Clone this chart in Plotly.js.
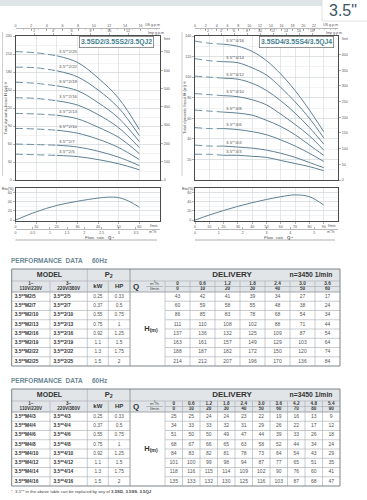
<!DOCTYPE html>
<html><head><meta charset="utf-8">
<script src="https://cdn.plot.ly/plotly-3.0.1.min.js"></script>
<style>html,body{margin:0;padding:0;background:#fff}#c{width:367px;height:500px}</style>
</head><body><div id="c"></div>
<script>
// ---------------- DATA ----------------
// Series 3.5"x2 (chart left, table 1)
const flowA = [0, 10, 20, 30, 40, 50, 60];               // l/min
const m3hA = ['0', '0.6', '1.2', '1.8', '2.4', '3.0', '3.6'];
const modelsA = ['2/5', '2/7', '2/10', '2/13', '2/16', '2/19', '2/22', '2/25'];
const hA_2_5  = [43, 42, 41, 39, 34, 27, 17];
const hA_2_7  = [60, 59, 58, 55, 48, 38, 24];
const hA_2_10 = [86, 85, 83, 78, 68, 54, 34];
const hA_2_13 = [111, 110, 108, 102, 88, 71, 44];
const hA_2_16 = [137, 136, 132, 125, 109, 87, 54];
const hA_2_19 = [163, 161, 157, 149, 129, 103, 64];
const hA_2_22 = [188, 187, 182, 172, 150, 120, 74];
const hA_2_25 = [214, 212, 207, 196, 170, 136, 84];
const effFlowA = [0, 10, 20, 30, 40, 45, 50, 55, 60];
const effA     = [0, 18, 32, 41, 48, 50, 49, 41, 28];

// Series 3.5"x4 (chart right, table 2)
const flowB = [0, 10, 20, 30, 40, 50, 60, 70, 80, 90];
const m3hB = ['0', '0.6', '1.2', '1.8', '2.4', '3.0', '3.6', '4.2', '4.8', '5.4'];
const modelsB = ['4/3', '4/4', '4/6', '4/8', '4/10', '4/12', '4/14', '4/16'];
const hB_4_3  = [25, 25, 24, 24, 23, 22, 19, 16, 13, 9];
const hB_4_4  = [34, 33, 33, 32, 31, 29, 26, 22, 17, 12];
const hB_4_6  = [51, 50, 50, 49, 47, 44, 39, 33, 26, 18];
const hB_4_8  = [68, 67, 66, 65, 63, 58, 52, 44, 34, 24];
const hB_4_10 = [84, 83, 82, 81, 78, 73, 64, 54, 43, 29];
const hB_4_12 = [101, 100, 99, 98, 94, 87, 77, 65, 51, 35];
const hB_4_14 = [118, 116, 115, 114, 109, 102, 90, 76, 60, 41];
const hB_4_16 = [135, 133, 132, 130, 125, 116, 103, 87, 68, 47];
const effFlowB = [0, 10, 20, 30, 40, 50, 60, 70, 80, 90];
const effB     = [0, 11, 21, 30, 38, 45, 51, 55, 51, 33];

// Power (same for both tables)
const kwVals = ['0.25', '0.37', '0.55', '0.75', '0.92', '1.1', '1.3', '1.5'];
const hpVals = ['0.33', '0.5', '0.75', '1', '1.25', '1.5', '1.75', '2'];

// Tick labels
const yTicksA = [0, 30, 60, 90, 120, 150, 180, 210, 240];
const feetTicksA = [0, 100, 200, 300, 400, 500, 600, 700];
const usTicksA = [0, 2, 4, 6, 8, 10, 12, 14, 16];
const impTicksA = [2, 4, 6, 8, 10, 12];
const lminTicksA = [0, 10, 20, 30, 40, 50, 60];
const m3TicksA = [0, 0.5, 1, 1.5, 2, 2.5, 3, 3.5];
const yTicksB = [20, 40, 60, 80, 100, 120, 140];
const feetTicksB = [0, 50, 100, 150, 200, 250, 300, 350, 400];
const usTicksB = [0, 2, 4, 6, 8, 10, 12, 14, 16, 18, 20, 22];
const impTicksB = [2, 4, 6, 8, 10, 12, 14, 16, 18];
const lminTicksB = [0, 10, 20, 30, 40, 50, 60, 70, 80, 90];
const m3TicksB = [0, 1, 2, 3, 4, 5];
const effTicks = [0, 20, 40, 60];

const headsA = [hA_2_5, hA_2_7, hA_2_10, hA_2_13, hA_2_16, hA_2_19, hA_2_22, hA_2_25];
const headsB = [hB_4_3, hB_4_4, hB_4_6, hB_4_8, hB_4_10, hB_4_12, hB_4_14, hB_4_16];

// ---------------- LAYOUT HELPERS ----------------
const W = 367, H = 500;
const px = v => v / W;
const py = v => 1 - v / H;
const FONT = 'Liberation Sans, Arial, sans-serif';
const TF = {family: FONT, size: 3.6, color: '#555'};
const CURVE = '#5e8194';
const GRID = '#ccd2d6', GRID2 = '#e4e8ea', FRAME = '#4a4a4a';
const M3 = 0.06, USG = 3.78541, IMPG = 4.54609, FT = 3.28084;

const traces = [];
const annotations = [];
const shapes = [];

function addCurves(models, heads, flow, xa, ya, prefix) {
  models.forEach((m, i) => {
    const h = heads[i];
    traces.push({type: 'scatter', mode: 'lines', x: flow.slice(0, 3), y: h.slice(0, 3), xaxis: xa, yaxis: ya,
      line: {color: CURVE, width: 0.9, dash: '7px,4px', shape: 'spline'}, hoverinfo: 'skip', showlegend: false});
    traces.push({type: 'scatter', mode: 'lines', x: flow.slice(2), y: h.slice(2), xaxis: xa, yaxis: ya,
      line: {color: CURVE, width: 1, shape: 'spline'}, hoverinfo: 'skip', showlegend: false});
    annotations.push({xref: xa, yref: ya, x: flow[2], y: h[2], text: prefix + m, showarrow: false,
      xanchor: 'left', yanchor: 'bottom', yshift: -0.5, font: {family: FONT, size: 4.4, color: '#555'}});
  });
}
function dummy(xa, ya) {
  traces.push({type: 'scatter', mode: 'markers', x: [0], y: [0], xaxis: xa, yaxis: ya,
    marker: {opacity: 0, size: 1}, hoverinfo: 'skip', showlegend: false});
}
function pann(text, x, y, opt) {
  annotations.push(Object.assign({xref: 'paper', yref: 'paper', x: px(x), y: py(y), text: text, showarrow: false,
    xanchor: 'left', yanchor: 'middle', font: {family: FONT, size: 3.6, color: '#555'}}, opt || {}));
}
function pline(x0, y0, x1, y1, color, width) {
  shapes.push({type: 'line', xref: 'paper', yref: 'paper', x0: px(x0), y0: py(y0), x1: px(x1), y1: py(y1),
    line: {color: color, width: width}});
}

// ---- charts
addCurves(modelsA, headsA, flowA, 'x', 'y', '3.5**');
traces.push({type: 'scatter', mode: 'lines', x: effFlowA, y: effA, xaxis: 'x4', yaxis: 'y3',
  line: {color: CURVE, width: 1, shape: 'spline'}, hoverinfo: 'skip', showlegend: false});
dummy('x', 'y2'); dummy('x2', 'y'); dummy('x3', 'y'); dummy('x5', 'y3');

addCurves(modelsB, headsB, flowB, 'x6', 'y4', '3.5**');
traces.push({type: 'scatter', mode: 'lines', x: effFlowB, y: effB, xaxis: 'x9', yaxis: 'y6',
  line: {color: CURVE, width: 1, shape: 'spline'}, hoverinfo: 'skip', showlegend: false});
dummy('x6', 'y5'); dummy('x7', 'y4'); dummy('x8', 'y4'); dummy('x10', 'y6');

const base = {zeroline: false, tickfont: TF, ticklen: 2, tickwidth: 0.5, tickcolor: '#666', fixedrange: true, showgrid: false};
const frame = {showline: true, mirror: true, linecolor: FRAME, linewidth: 1};

function chartAxes(G, n) {
  const L = {};
  const dom = [px(G.x0), px(G.x1)];
  L['xaxis' + n.x] = Object.assign({}, base, frame, {domain: dom, range: [0, G.xmax], anchor: 'y' + n.y,
    showticklabels: false, ticks: '', showgrid: true, gridcolor: GRID, gridwidth: 0.5, tickvals: G.lmin});
  L['yaxis' + n.y] = Object.assign({}, base, frame, {domain: [py(G.bot), py(G.top)], range: [0, G.ymax], anchor: 'x' + n.x,
    tickvals: G.yt, ticks: 'outside', showgrid: true, gridcolor: GRID, gridwidth: 0.5,
    minor: {dtick: G.ymin, tick0: 0, showgrid: true, gridcolor: GRID2, gridwidth: 0.5, ticks: ''}});
  L['yaxis' + n.yft] = Object.assign({}, base, {overlaying: 'y' + n.y, side: 'right', anchor: 'x' + n.x,
    range: [0, G.ymax * FT], tickvals: G.ft, ticks: 'outside'});
  L['xaxis' + n.xus] = Object.assign({}, base, {overlaying: 'x' + n.x, side: 'top', anchor: 'free', position: py(G.usY),
    range: [0, G.xmax / USG], tickvals: G.us, ticks: 'inside', showline: true, linecolor: '#888', linewidth: 0.6,
    minor: {dtick: 1, tick0: 0, ticks: 'inside', ticklen: 1.2, tickcolor: '#888', tickwidth: 0.4}});
  L['xaxis' + n.ximp] = Object.assign({}, base, {overlaying: 'x' + n.x, side: 'top', anchor: 'y' + n.y,
    range: [0, G.xmax / IMPG], tickvals: G.imp, ticks: 'outside'});
  L['xaxis' + n.xe] = Object.assign({}, base, frame, {domain: dom, range: [0, G.xmax], anchor: 'y' + n.ye,
    tickvals: G.lmin, ticks: 'outside', showgrid: true, gridcolor: GRID, gridwidth: 0.5});
  L['yaxis' + n.ye] = Object.assign({}, base, frame, {domain: [py(G.ebot), py(G.etop)], range: [-2, 70], anchor: 'x' + n.xe,
    tickvals: effTicks, ticks: 'outside', showgrid: true, gridcolor: GRID, gridwidth: 0.5,
    minor: {dtick: 10, tick0: 0, showgrid: true, gridcolor: GRID2, gridwidth: 0.5, ticks: ''}});
  L['xaxis' + n.xm3] = Object.assign({}, base, {overlaying: 'x' + n.xe, side: 'bottom', anchor: 'free', position: py(G.m3Y),
    range: [0, G.xmax * M3], tickvals: G.m3, ticks: 'inside', showline: true, linecolor: '#888', linewidth: 0.6});
  return L;
}

const GA = {x0: 15.5, x1: 160, top: 36, bot: 180, etop: 188, ebot: 221, usY: 28, m3Y: 229,
  xmax: 70, ymax: 240, ymin: 15, yt: yTicksA, ft: feetTicksA, us: usTicksA, imp: impTicksA, lmin: lminTicksA, m3: m3TicksA};
const GB = {x0: 195, x1: 338, top: 36, bot: 180, etop: 188, ebot: 221, usY: 28, m3Y: 229,
  xmax: 100, ymax: 140, ymin: 10, yt: yTicksB, ft: feetTicksB, us: usTicksB, imp: impTicksB, lmin: lminTicksB, m3: m3TicksB};

const layoutAxes = Object.assign({},
  chartAxes(GA, {x: '', xus: 2, ximp: 3, xe: 4, xm3: 5, y: '', yft: 2, ye: 3}),
  chartAxes(GB, {x: 6, xus: 7, ximp: 8, xe: 9, xm3: 10, y: 4, yft: 5, ye: 6}));
layoutAxes.xaxis.anchor = 'y'; layoutAxes.yaxis.anchor = 'x';
layoutAxes.yaxis2.overlaying = 'y'; layoutAxes.yaxis2.anchor = 'x';
layoutAxes.xaxis2.overlaying = 'x'; layoutAxes.xaxis3.overlaying = 'x'; layoutAxes.xaxis3.anchor = 'y';

// chart labels
function chartLabels(G, title, boxX, yTitleX, lineX) {
  pann('<b>' + title + '</b>', boxX, 42.5, {xanchor: 'center', bgcolor: '#fff', bordercolor: '#777',
    borderwidth: 0.8, borderpad: 1.2, font: {family: FONT, size: 6.8, color: '#3f7f8f'}});
  pann('US g.p.m', G.x1 - 17, 25);
  pann('Imp g.p.m', G.x1 - 14, 33);
  pann('feet', G.x1 + 2, 39);
  pann('l/min', G.x1 - 12, 226);
  pann('m<sup>3</sup>/h', G.x1 - 13, 232);
  pann('Flow  rate   <b>Q</b> \u2022', (G.x0 + G.x1) / 2 + 12, 237, {xanchor: 'center', font: {family: FONT, size: 4.4, color: '#555'}});
  pann('Eta(%)', G.x0 - 15.5, 189, {font: {family: FONT, size: 3.8, color: '#444'}});
  pann('Total dynamic head <b>H</b> (m) \u2261', yTitleX, 108, {xanchor: 'center', textangle: -90, font: {family: FONT, size: 4.3, color: '#555'}});
  pline(G.x0, 240, G.x1 - 3, 240, '#999', 0.8);
  pline(lineX, 32, lineX, 176, '#bbb', 0.7);
}
chartLabels(GA, '3.5SD2/3.5SS2/3.5QJ2', 116.5, 5.5, 2.5);
chartLabels(GB, '3.5SD4/3.5SS4/3.5QJ4', 296.5, 185, 182);

// top banner
shapes.push({type: 'rect', xref: 'paper', yref: 'paper', x0: 0, x1: 1, y0: py(6), y1: 1, line: {width: 0}, fillcolor: '#dfe4e7', layer: 'below'});
shapes.push({type: 'rect', xref: 'paper', yref: 'paper', x0: px(322), x1: px(368), y0: py(21), y1: py(-2), line: {width: 0.6, color: '#ccd2d6'}, fillcolor: '#fff'});
pann('3.5"', 343, 10, {xanchor: 'center', font: {family: FONT, size: 16, color: '#3b5563'}});

// ---------------- TABLES ----------------
const T = {x: [], y: [], text: [], pos: [], size: [], color: []};
function tt(x, y, text, size, color, pos) {
  T.x.push(x); T.y.push(y); T.text.push(text); T.size.push(size); T.color.push(color || '#333'); T.pos.push(pos || 'middle center');
}
function tl(x0, y0, x1, y1, color, width) {
  shapes.push({type: 'line', xref: 'x11', yref: 'y7', x0: x0, y0: y0, x1: x1, y1: y1, line: {color: color || '#a4aaae', width: width || 0.6}});
}
function buildTable(top, qM3h, qLmin, heads, mod1, mod2) {
  const c = [11.7, 50, 87.3, 108.3, 130, 165], right = 340;
  const n = qLmin.length, dw = (right - c[5]) / n;
  const r1 = top + 12, r2 = top + 17.5, r3 = top + 23, rh = 9.25, nr = heads.length, bottom = r3 + rh * nr;
  tt(11, top - 7.5, '<b>PERFORMANCE  DATA</b>', 6.5, '#6b8795', 'middle right');
  tt(92, top - 7.5, '<b>60Hz</b>', 6.5, '#6b8795', 'middle right');
  shapes.push({type: 'rect', xref: 'x11', yref: 'y7', x0: c[0], x1: right, y0: top, y1: r3, fillcolor: '#e1e5e8', line: {width: 0}, layer: 'below'});
  tl(c[0], r1, right, r1);
  tl(c[5], r2, right, r2);
  tl(146, r2, 163, r2, '#888', 0.5);
  tl(c[0], r3, right, r3, '#8d9397', 0.8);
  for (let i = 1; i < nr; i++) {
    tl(c[0], r3 + rh * i, c[4], r3 + rh * i);
    tl(c[5], r3 + rh * i, right, r3 + rh * i);
  }
  tl(c[1], r1, c[1], bottom);
  tl(c[2], top, c[2], bottom);
  tl(c[3], r1, c[3], bottom);
  tl(c[4], top, c[4], bottom, '#8d9397', 0.9);
  tl(c[5], r1, c[5], bottom);
  for (let j = 1; j < n; j++) tl(c[5] + dw * j, r1, c[5] + dw * j, bottom);
  shapes.push({type: 'rect', xref: 'x11', yref: 'y7', x0: c[0], x1: right, y0: top, y1: bottom, line: {color: '#7d8387', width: 1}});
  const h1 = (top + r1) / 2, h2 = (r1 + r3) / 2;
  tt((c[0] + c[2]) / 2, h1, '<b>MODEL</b>', 7, '#333');
  tt((c[2] + c[4]) / 2, h1, '<b>P<sub>2</sub></b>', 7.5, '#333');
  tt(232, h1, '<b>DELIVERY</b>', 8, '#333');
  tt(311, h1, '<b>n=3450 1/min</b>', 6.8, '#333');
  tt((c[0] + c[1]) / 2, r1 + 3, '<b>1~</b>', 4.6, '#333');
  tt((c[0] + c[1]) / 2, r3 - 3, '<b>110V/220V</b>', 4.6, '#333');
  tt((c[1] + c[2]) / 2, r1 + 3, '<b>3~</b>', 4.6, '#333');
  tt((c[1] + c[2]) / 2, r3 - 3, '<b>220V/380V</b>', 4.6, '#333');
  tt((c[2] + c[3]) / 2, h2, '<b>kW</b>', 6, '#333');
  tt((c[3] + c[4]) / 2, h2, '<b>HP</b>', 6, '#333');
  tt(136, h2, '<b>Q</b>', 8, '#333');
  tt(154.5, (r1 + r2) / 2, 'm<sup>3</sup>/h', 4.3, '#444');
  tt(154.5, (r2 + r3) / 2, 'l/min', 4.3, '#444');
  for (let j = 0; j < n; j++) {
    const cx = c[5] + dw * (j + 0.5);
    tt(cx, (r1 + r2) / 2, '<b>' + qM3h[j] + '</b>', 4.6, '#333');
    tt(cx, (r2 + r3) / 2, '<b>' + qLmin[j] + '</b>', 4.6, '#333');
  }
  tt(151, r3 + rh * nr / 2, '<b>H<sub>(m)</sub></b>', 7.5, '#333');
  for (let i = 0; i < nr; i++) {
    const cy = r3 + rh * (i + 0.5);
    tt(c[0] + 3, cy, '<b>' + mod1[i] + '</b>', 4.8, '#333', 'middle right');
    tt(c[1] + 3.5, cy, '<b>' + mod2[i] + '</b>', 4.8, '#333', 'middle right');
    tt((c[2] + c[3]) / 2, cy, kwVals[i], 4.8, '#555');
    tt((c[3] + c[4]) / 2, cy, hpVals[i], 4.8, '#555');
    for (let j = 0; j < n; j++) tt(c[5] + dw * (j + 0.5), cy, String(heads[i][j]), 5, '#555');
  }
}
buildTable(269, m3hA, flowA, headsA, modelsA.map(m => '3.5**M' + m), modelsA.map(m => '3.5**' + m));
buildTable(389, m3hB, flowB, headsB, modelsB.map(m => '3.5**M' + m), modelsB.map(m => '3.5**' + m));
tt(11, 492, '<span style="color:#c33">*</span>  3.5** in the above table can be replaced by any of <b>3.5SD, 3.5SS, 3.5QJ</b>', 4.3, '#444', 'middle right');

traces.push({type: 'scatter', mode: 'text', x: T.x, y: T.y, text: T.text, textposition: T.pos, xaxis: 'x11', yaxis: 'y7',
  textfont: {family: FONT, size: T.size, color: T.color}, hoverinfo: 'skip', showlegend: false, cliponaxis: false});

layoutAxes.xaxis11 = {domain: [0, 1], range: [0, W], anchor: 'y7', visible: false, fixedrange: true};
layoutAxes.yaxis7 = {domain: [0, 0.5], range: [H, H / 2], anchor: 'x11', visible: false, fixedrange: true};

const layout = Object.assign({
  width: W, height: H, autosize: false, margin: {l: 0, r: 0, t: 0, b: 0},
  paper_bgcolor: '#fff', plot_bgcolor: 'rgba(0,0,0,0)', showlegend: false,
  font: {family: FONT, size: 4, color: '#555'},
  annotations: annotations, shapes: shapes
}, layoutAxes);

Plotly.newPlot('c', traces, layout, {staticPlot: true, displayModeBar: false});
</script>
</body></html>
